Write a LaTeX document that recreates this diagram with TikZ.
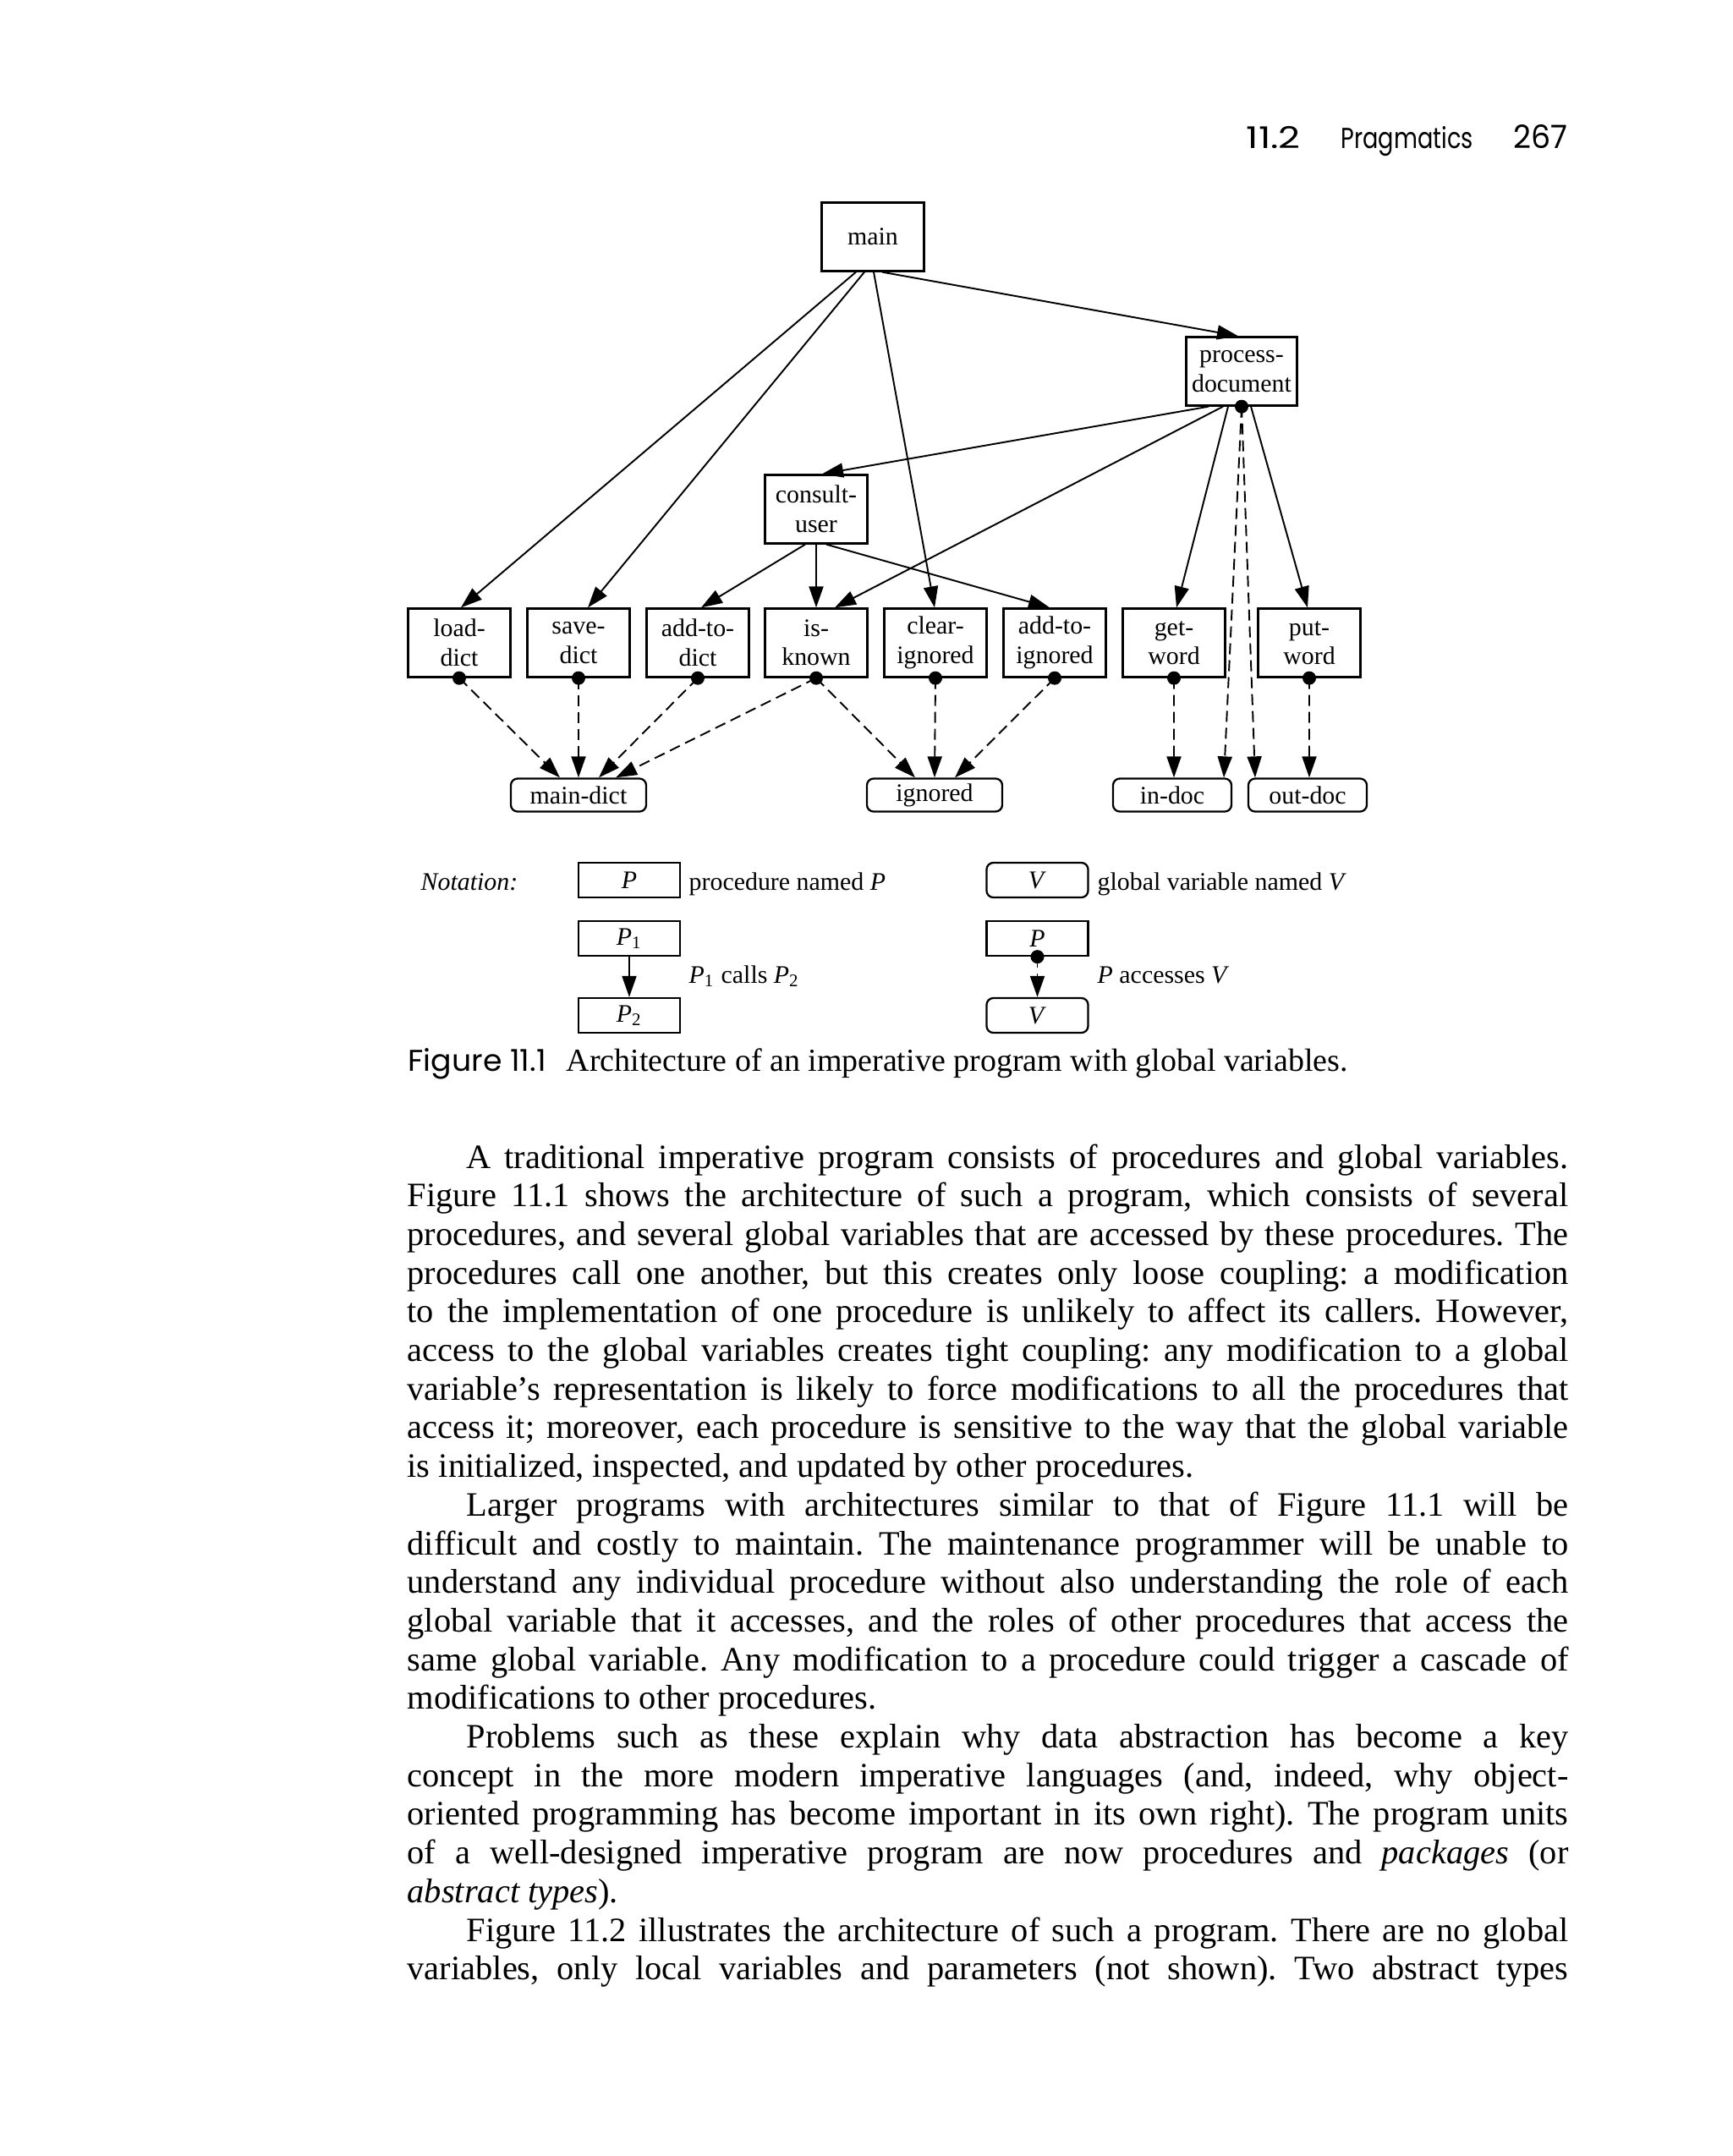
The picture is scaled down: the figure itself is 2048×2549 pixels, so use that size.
\documentclass[tikz,border=0pt]{standalone}
\usepackage{fontspec}
\usepackage{graphicx}
\setmainfont{Liberation Serif}
\newfontfamily\futura{Poppins}
\usetikzlibrary{arrows.meta}
\frenchspacing
\newcommand\bodyfont{\fontsize{11.5pt}{13pt}\selectfont}
\newcommand\diafont{\fontsize{8.5pt}{9.8pt}\selectfont}
\newcommand\jline[2][13.72cm]{\makebox[#1][s]{#2}}
\tikzset{
  proc/.style={draw, line width=0.65pt, minimum width=1.21cm, minimum height=0.81cm,
    inner sep=0pt, align=center, font=\diafont},
  var/.style={proc, rounded corners=0.08cm, minimum height=0.39cm},
  nproc/.style={proc, minimum width=1.20cm, minimum height=0.41cm},
  nvar/.style={nproc, rounded corners=0.08cm},
  call/.style={-{Triangle[length=0.25cm,width=0.17cm]}, line width=0.55pt},
  acc/.style={call, dash pattern=on 0.13cm off 0.07cm},
  bl/.style={anchor=base west, inner sep=0pt, font=\bodyfont},
  dl/.style={anchor=base west, inner sep=0pt, font=\diafont},
}
\begin{document}
\begin{tikzpicture}[x=0.01cm, y=-0.01cm]
\fill[white] (0,0) rectangle (2048,2549);
\useasboundingbox (0,0) rectangle (2048,2549);

% header
\node[anchor=base west, inner sep=0pt] (h1) at (1473,176) {\resizebox{0.64cm}{0.26cm}{\futura 11.2}};
\node[anchor=base west, inner sep=0pt] (h2) at (1585,176) {\resizebox{1.56cm}{0.26cm}{\futura Pragmatics}};
\node[anchor=base west, inner sep=0pt] (h3) at (1789,176) {\resizebox{0.64cm}{0.28cm}{\futura 267}};

% procedures
\node[proc] (main) at (1032,280) {main};
\node[proc, minimum width=1.31cm] (pd) at (1468,439) {process-\\document};
\node[proc] (cu) at (965,602) {consult-\\user};
\node[proc] (ld) at (543,760) {load-\\dict};
\node[proc] (sd) at (684,760) {save-\\dict};
\node[proc] (ad) at (825,760) {add-to-\\dict};
\node[proc] (ik) at (965,760) {is-\\known};
\node[proc] (ci) at (1106,760) {clear-\\ignored};
\node[proc] (ai) at (1247,760) {add-to-\\ignored};
\node[proc] (gw) at (1388,760) {get-\\word};
\node[proc] (pw) at (1548,760) {put-\\word};

% variables
\node[var, minimum width=1.60cm] (md) at (684,940) {main-dict};
\node[var, minimum width=1.60cm] (ig) at (1105,940) {ignored};
\node[var, minimum width=1.40cm] (id) at (1386,940) {in-doc};
\node[var, minimum width=1.40cm] (od) at (1546,940) {out-doc};

% calls
\draw[call] ([xshift=-0.20cm]main.south) -- ([xshift=0.02cm]ld.north);
\draw[call] ([xshift=-0.10cm]main.south) -- ([xshift=0.11cm]sd.north);
\draw[call] ([xshift=0.01cm]main.south) -- ([xshift=-0.01cm]ci.north);
\draw[call] ([xshift=0.11cm]main.south) -- ([xshift=-0.04cm]pd.north);
\draw[call] ([xshift=-0.39cm]pd.south) -- ([xshift=0.07cm]cu.north);
\draw[call] ([xshift=-0.22cm]pd.south) -- ([xshift=0.22cm]ik.north);
\draw[call] ([xshift=-0.16cm]pd.south) -- ([xshift=0.03cm]gw.north);
\draw[call] ([xshift=0.11cm]pd.south) -- ([xshift=-0.02cm]pw.north);
\draw[call] ([xshift=-0.13cm]cu.south) -- ([xshift=0.04cm]ad.north);
\draw[call] (cu.south) -- (ik.north);
\draw[call] ([xshift=0.12cm]cu.south) -- ([xshift=-0.06cm]ai.north);

% accesses
\draw[acc] (pd.south) -- ([xshift=0.61cm]id.north);
\draw[acc] (pd.south) -- ([xshift=-0.62cm]od.north);
\draw[acc] (ld.south) -- ([xshift=-0.22cm]md.north);
\draw[acc] (sd.south) -- (md.north);
\draw[acc] (ad.south) -- ([xshift=0.24cm]md.north);
\draw[acc] (ik.south) -- ([xshift=0.44cm]md.north);
\draw[acc] (ik.south) -- ([xshift=-0.23cm]ig.north);
\draw[acc] (ci.south) -- (ig.north);
\draw[acc] (ai.south) -- ([xshift=0.24cm]ig.north);
\draw[acc] (gw.south) -- ([xshift=0.02cm]id.north);
\draw[acc] (pw.south) -- ([xshift=0.02cm]od.north);
\foreach \n in {pd,ld,sd,ad,ik,ci,ai,gw,pw} \fill (\n.south) circle (0.08cm);

% notation
\node[dl, font=\diafont\itshape] (nt) at (497,1052) {Notation:};
\node[nproc] (np) at (744,1040.5) {\textit{P}};
\node[dl] (npl) at (814,1052) {procedure named \textit{P}};
\node[nvar] (nv) at (1226.5,1040.5) {\textit{V}};
\node[dl] (nvl) at (1297,1052) {global variable named \textit{V}};
\node[nproc] (np1) at (744,1109.5) {\textit{P}\textsubscript{1}};
\node[nproc] (np2) at (744,1200.5) {\textit{P}\textsubscript{2}};
\draw[call] (np1.south) -- (np2.north);
\node[dl] (ncl) at (814,1162) {\textit{P}\textsubscript{1} calls \textit{P}\textsubscript{2}};
\node[nproc] (nap) at (1226.5,1109.5) {\textit{P}};
\node[nvar] (nav) at (1226.5,1200.5) {\textit{V}};
\draw[acc] (nap.south) -- (nav.north);
\fill (nap.south) circle (0.08cm);
\node[dl] (nal) at (1297,1162) {\textit{P} accesses \textit{V}};

% caption
\node[anchor=base west, inner sep=0pt] (cap1) at (482,1266) {\resizebox{1.63cm}{0.27cm}{\futura Figure 11.1}};
\node[anchor=base west, inner sep=0pt, font=\fontsize{10.8pt}{13pt}\selectfont] (cap2) at (669,1266) {Architecture of an imperative program with global variables.};

% body text
\node[bl] (l1) at (551,1381) {\jline[13.02cm]{A traditional imperative program consists of procedures and global variables.}};
\node[bl] (l2) at (481,1426.7) {\jline{Figure 11.1 shows the architecture of such a program, which consists of several}};
\node[bl] (l3) at (481,1472.4) {\jline{procedures, and several global variables that are accessed by these procedures. The}};
\node[bl] (l4) at (481,1518.1) {\jline{procedures call one another, but this creates only loose coupling: a modification}};
\node[bl] (l5) at (481,1563.8) {\jline{to the implementation of one procedure is unlikely to affect its callers. However,}};
\node[bl] (l6) at (481,1609.5) {\jline{access to the global variables creates tight coupling: any modification to a global}};
\node[bl] (l7) at (481,1655.2) {\jline{variable’s representation is likely to force modifications to all the procedures that}};
\node[bl] (l8) at (481,1700.9) {\jline{access it; moreover, each procedure is sensitive to the way that the global variable}};
\node[bl] (l9) at (481,1746.6) {is initialized, inspected, and updated by other procedures.};
\node[bl] (l10) at (551,1792.3) {\jline[13.02cm]{Larger programs with architectures similar to that of Figure 11.1 will be}};
\node[bl] (l11) at (481,1838) {\jline{difficult and costly to maintain. The maintenance programmer will be unable to}};
\node[bl] (l12) at (481,1883.7) {\jline{understand any individual procedure without also understanding the role of each}};
\node[bl] (l13) at (481,1929.4) {\jline{global variable that it accesses, and the roles of other procedures that access the}};
\node[bl] (l14) at (481,1975.1) {\jline{same global variable. Any modification to a procedure could trigger a cascade of}};
\node[bl] (l15) at (481,2020.8) {modifications to other procedures.};
\node[bl] (l16) at (551,2066.5) {\jline[13.02cm]{Problems such as these explain why data abstraction has become a key}};
\node[bl] (l17) at (481,2112.2) {\jline{concept in the more modern imperative languages (and, indeed, why object-}};
\node[bl] (l18) at (481,2157.9) {\jline{oriented programming has become important in its own right). The program units}};
\node[bl] (l19) at (481,2203.6) {\jline{of a well-designed imperative program are now procedures and \textit{packages} (or}};
\node[bl] (l20) at (481,2249.3) {\textit{abstract types}).};
\node[bl] (l21) at (551,2295) {\jline[13.02cm]{Figure 11.2 illustrates the architecture of such a program. There are no global}};
\node[bl] (l22) at (481,2340.7) {\jline{variables, only local variables and parameters (not shown). Two abstract types}};
\end{tikzpicture}
\end{document}
